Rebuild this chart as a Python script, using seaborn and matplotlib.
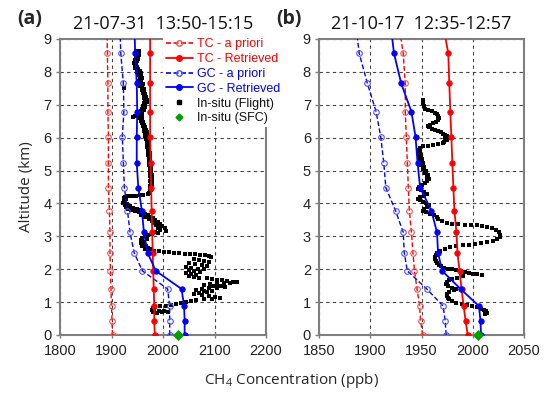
import matplotlib
matplotlib.use("Agg")
import matplotlib.pyplot as plt
from matplotlib.lines import Line2D
import seaborn as sns
import pandas as pd

# ---------------- data ----------------
levels = [0, 0.42, 0.88, 1.40, 1.95, 2.50, 3.12, 3.78, 4.48, 5.24, 6.03, 6.79, 7.65, 8.56, 9.6]

tc_apriori_a = [1902, 1901, 1900, 1899, 1898, 1897, 1897, 1896, 1894, 1894, 1894, 1893, 1893, 1892, 1891]
tc_retrieved_a = [1984, 1983, 1983, 1982, 1981, 1980, 1979, 1978, 1977, 1976, 1975, 1975, 1975, 1975, 1975]
gc_apriori_a = [2013, 2013, 2013, 2009, 1960, 1944, 1936, 1931, 1925, 1923, 1921, 1924, 1923, 1918, 1916]
gc_retrieved_a = [2042, 2042, 2041, 2036, 1986, 1970, 1963, 1959, 1952, 1949, 1949, 1950, 1949, 1946, 1944]

tc_apriori_b = [1951, 1949, 1948, 1945.5, 1943, 1941.5, 1940, 1938, 1937, 1936, 1935, 1934, 1934, 1932, 1927]
tc_retrieved_b = [1995, 1993, 1991, 1989, 1987, 1985, 1984, 1982, 1981, 1980, 1979, 1978, 1977, 1976, 1970]
gc_apriori_b = [1974, 1973, 1971, 1955, 1936, 1933, 1932, 1924.5, 1915, 1913, 1910, 1905.5, 1897, 1889, 1885]
gc_retrieved_b = [2008, 2007.5, 2006, 1988, 1970, 1966, 1965, 1959.5, 1948.5, 1946, 1944, 1940, 1930, 1923, 1919]

sfc_a = [2029]
sfc_b = [2005]
sfc_alt = [0]

flight_a = [
    (1948, 8.65), (1953, 8.62), (1950, 8.58), (1946, 8.55), (1954, 8.52), (1950, 8.48), (1947, 8.44),
    (1952, 8.40), (1945, 8.36), (1949, 8.32), (1944, 8.28), (1948, 8.24), (1945, 8.20), (1950, 8.16),
    (1946, 8.12), (1952, 8.08), (1955, 8.04), (1950, 8.00), (1957, 7.96), (1953, 7.92), (1958, 7.88),
    (1955, 7.84), (1960, 7.80), (1956, 7.76), (1952, 7.72), (1958, 7.68), (1962, 7.64), (1957, 7.60),
    (1955, 7.56), (1960, 7.52), (1963, 7.48), (1959, 7.44), (1964, 7.40), (1961, 7.36), (1966, 7.32),
    (1963, 7.28), (1967, 7.24), (1964, 7.20), (1968, 7.16), (1965, 7.12), (1968, 7.08), (1964, 7.04),
    (1966, 7.00), (1961, 6.96), (1965, 6.92), (1959, 6.88), (1963, 6.84), (1957, 6.80), (1960, 6.76),
    (1955, 6.72), (1959, 6.68), (1956, 6.64), (1953, 6.60), (1960, 6.56), (1957, 6.52), (1962, 6.48),
    (1959, 6.44), (1964, 6.40), (1961, 6.36), (1966, 6.32), (1963, 6.28), (1967, 6.24), (1964, 6.20),
    (1968, 6.16), (1965, 6.12), (1969, 6.08), (1966, 6.04), (1970, 6.00), (1967, 5.96), (1970, 5.92),
    (1968, 5.88), (1971, 5.84), (1969, 5.80), (1972, 5.76), (1969, 5.72), (1972, 5.68), (1970, 5.64),
    (1973, 5.60), (1971, 5.56), (1974, 5.52), (1971, 5.48), (1974, 5.44), (1972, 5.40), (1975, 5.36),
    (1972, 5.32), (1975, 5.28), (1973, 5.24), (1976, 5.20), (1973, 5.16), (1976, 5.12), (1974, 5.08),
    (1977, 5.04), (1974, 5.00), (1977, 4.96), (1975, 4.92), (1978, 4.88), (1975, 4.84), (1978, 4.80),
    (1976, 4.76), (1978, 4.72), (1975, 4.68), (1978, 4.64), (1976, 4.60), (1978, 4.56), (1975, 4.52),
    (1977, 4.48), (1974, 4.44), (1977, 4.40), (1975, 4.36), (1973, 4.32),
    (1924, 7.52), (1942, 6.62), (1945, 6.65),
    (1970, 4.28), (1962, 4.26), (1955, 4.25), (1948, 4.24), (1940, 4.23), (1933, 4.22), (1927, 4.20),
    (1925, 4.16), (1928, 4.12), (1924, 4.08), (1927, 4.04), (1923, 4.00), (1930, 3.98), (1926, 3.94),
    (1935, 3.92), (1929, 3.88), (1942, 3.86), (1933, 3.84), (1950, 3.83), (1938, 3.80), (1957, 3.80),
    (1946, 3.77), (1953, 3.74), (1960, 3.72), (1965, 3.68), (1958, 3.66), (1970, 3.64), (1975, 3.60),
    (1966, 3.58), (1980, 3.56), (1972, 3.52), (1985, 3.50), (1978, 3.46), (1990, 3.44), (1982, 3.40),
    (1994, 3.38), (1986, 3.34), (1998, 3.30), (1990, 3.26), (2003, 3.24), (1995, 3.20), (2005, 3.17),
    (1985, 3.14), (1990, 3.10), (1978, 3.07), (1970, 3.03), (1965, 3.00), (1960, 2.96), (1968, 2.92),
    (1958, 2.88), (1963, 2.84), (1957, 2.80), (1962, 2.76), (1967, 2.72), (1960, 2.70), (1970, 2.66),
    (1965, 2.63), (1975, 2.60),
    (1982, 2.56), (1992, 2.55), (2002, 2.53), (2012, 2.52), (2022, 2.50), (2032, 2.49), (2042, 2.47),
    (2052, 2.46), (2062, 2.45), (2072, 2.44), (2082, 2.42), (2090, 2.40), (2094, 2.38),
    (2060, 2.30), (2070, 2.28), (2080, 2.25), (2090, 2.22), (2050, 2.18), (2062, 2.15), (2075, 2.12),
    (2085, 2.10), (2045, 2.08), (2055, 2.05), (2068, 2.02), (2080, 2.00), (2050, 1.97), (2060, 1.94),
    (2072, 1.92), (2045, 1.90), (2055, 1.86), (2065, 1.83), (2050, 1.78), (2060, 1.75), (2070, 1.72),
    (2085, 1.74), (2095, 1.70), (2105, 1.68), (2115, 1.66), (2125, 1.64), (2135, 1.62), (2143, 1.60),
    (2130, 1.58), (2118, 1.57), (2105, 1.56), (2092, 1.55), (2080, 1.53), (2098, 1.50), (2112, 1.48),
    (2120, 1.46), (2105, 1.44), (2090, 1.42), (2075, 1.40), (2065, 1.37), (2080, 1.35), (2095, 1.33),
    (2085, 1.30), (2070, 1.28), (2060, 1.25), (2075, 1.22), (2090, 1.20), (2100, 1.17), (2110, 1.12),
    (2095, 1.10), (2080, 1.08), (2065, 1.06), (2055, 1.03), (2045, 1.00), (2035, 0.97), (2025, 0.94),
    (2015, 0.91), (2005, 0.89), (1995, 0.87), (1985, 0.85), (1980, 0.81), (1979, 0.77), (1983, 0.74),
    (1992, 0.73), (2002, 0.72), (2010, 0.71), (1998, 0.69), (1988, 0.68), (1980, 0.70),
]

flight_b = [
    (1951, 7.15), (1951, 7.05), (1952, 6.95), (1953, 6.87), (1956, 6.84), (1960, 6.80), (1963, 6.76),
    (1965, 6.72), (1966, 6.66), (1967, 6.60), (1966, 6.54), (1964, 6.48), (1961, 6.44), (1958, 6.40),
    (1956, 6.36), (1957, 6.31), (1960, 6.27), (1963, 6.24), (1966, 6.20), (1969, 6.16), (1971, 6.12),
    (1973, 6.08), (1975, 6.04), (1976, 6.00), (1973, 5.97), (1975, 5.92), (1972, 5.88),
    (1971, 5.83), (1966, 5.80), (1961, 5.78), (1956, 5.76), (1951, 5.74), (1948, 5.70), (1946, 5.64),
    (1948, 5.58), (1946, 5.52), (1949, 5.46), (1947, 5.40), (1950, 5.34), (1948, 5.28), (1951, 5.22),
    (1949, 5.16), (1952, 5.10), (1951, 5.04), (1954, 4.98), (1953, 4.92), (1956, 4.86), (1955, 4.80),
    (1957, 4.74), (1955, 4.68), (1953, 4.62), (1950, 4.56), (1947, 4.50), (1946, 4.45), (1949, 4.40),
    (1952, 4.35), (1955, 4.28), (1952, 4.24), (1948, 4.20), (1946, 4.15), (1948, 4.10), (1951, 4.05),
    (1954, 4.00), (1957, 3.95), (1955, 3.90), (1952, 3.84), (1951, 3.78), (1954, 3.73), (1958, 3.69),
    (1962, 3.64), (1965, 3.58), (1966, 3.52),
    (1970, 3.46), (1975, 3.42), (1980, 3.39), (1986, 3.37), (1992, 3.35), (1998, 3.34), (2004, 3.33),
    (2009, 3.31), (2014, 3.28), (2019, 3.24), (2023, 3.18), (2026, 3.12), (2027, 3.05), (2027, 2.98),
    (2024, 2.91), (2020, 2.86), (2014, 2.82), (2008, 2.79), (2002, 2.77), (1996, 2.75), (1990, 2.73),
    (1984, 2.70), (1978, 2.67), (1973, 2.62), (1968, 2.56), (1965, 2.50), (1964, 2.44), (1963, 2.38),
    (1963, 2.32), (1964, 2.26), (1965, 2.20), (1967, 2.14), (1969, 2.09), (1972, 2.05), (1976, 2.02),
    (1980, 2.00), (1984, 1.97), (1988, 1.94), (1992, 1.91), (1996, 1.88), (2000, 1.86), (2004, 1.84),
    (2009, 1.82),
    (1990, 1.78), (1985, 1.74), (1980, 1.70), (1977, 1.66), (1975, 1.60), (1974, 1.54), (1976, 1.48),
    (1980, 1.44), (1984, 1.40), (1982, 1.36), (1977, 1.32), (1975, 1.26), (1975, 1.20), (1976, 1.14),
    (1977, 1.08), (1980, 1.02), (1984, 0.97), (1989, 0.93), (1994, 0.90), (1999, 0.87), (2004, 0.84),
    (2008, 0.80), (2011, 0.76), (2013, 0.72), (2014, 0.67), (2012, 0.64),
]

titles = ["21-07-31  13:50-15:15", "21-10-17  12:35-12:57"]
panel_tags = ["(a)", "(b)"]
xticks_a = [1800, 1900, 2000, 2100, 2200]
xticks_b = [1850, 1900, 1950, 2000, 2050]
yticks = list(range(0, 10))
legend_labels = ["TC - a priori", "TC - Retrieved", "GC - a priori", "GC - Retrieved",
                 "In-situ (Flight)", "In-situ (SFC)"]

# ---------------- style ----------------
sns.set_style("white")
plt.rcParams["font.family"] = ["Liberation Sans", "DejaVu Sans"]
plt.rcParams["mathtext.fontset"] = "custom"
plt.rcParams["mathtext.rm"] = "Open Sans"

RED = "#ff0000"
BLUE = "#0000ff"
GREEN = "#00a000"
GRID = "#444444"
SPINE = "#7f7f7f"

W, H = 550, 394
fig = plt.figure(figsize=(W / 100, H / 100), dpi=100)


def px_rect(l, t, r, b):
    return [l / W, 1 - b / H, (r - l) / W, (b - t) / H]


ax_a = fig.add_axes(px_rect(60, 39, 266, 335))
ax_b = fig.add_axes(px_rect(319.3, 39, 524, 335))


def draw_panel(ax, tc_ap, tc_ret, gc_ap, gc_ret, flight, sfc, xlim, xticks):
    df = pd.DataFrame({"alt": levels, "tc_ap": tc_ap, "tc_ret": tc_ret,
                       "gc_ap": gc_ap, "gc_ret": gc_ret})
    fl = pd.DataFrame(flight, columns=["conc", "alt"])
    sns.scatterplot(data=fl, x="conc", y="alt", ax=ax, marker="s", s=7,
                    color="black", linewidth=0, zorder=3, legend=False)
    sns.lineplot(data=df, x="tc_ap", y="alt", ax=ax, sort=False, estimator=None,
                 color=RED, lw=1.0, linestyle=(0, (3.5, 1.8)), marker="o", markersize=4,
                 markerfacecolor="none", markeredgecolor="#ff5050", markeredgewidth=0.8, zorder=4)
    sns.lineplot(data=df, x="gc_ap", y="alt", ax=ax, sort=False, estimator=None,
                 color=BLUE, lw=1.0, linestyle=(0, (3.5, 1.8)), marker="o", markersize=4,
                 markerfacecolor="none", markeredgecolor="#5050ff", markeredgewidth=0.8, zorder=4)
    sns.lineplot(data=df, x="tc_ret", y="alt", ax=ax, sort=False, estimator=None,
                 color=RED, lw=1.3, marker="o", markersize=4,
                 markeredgecolor=RED, markeredgewidth=0.5, zorder=5)
    sns.lineplot(data=df, x="gc_ret", y="alt", ax=ax, sort=False, estimator=None,
                 color=BLUE, lw=1.3, marker="o", markersize=4,
                 markeredgecolor=BLUE, markeredgewidth=0.5, zorder=5)
    sf = pd.DataFrame({"conc": sfc, "alt": sfc_alt})
    sns.scatterplot(data=sf, x="conc", y="alt", ax=ax, marker="D", s=32,
                    color=GREEN, linewidth=0, zorder=7, clip_on=False, legend=False)

    ax.set_xlim(*xlim)
    ax.set_ylim(0, 9)
    ax.set_xticks(xticks)
    ax.set_yticks(yticks)
    ax.set_xlabel("")
    ax.set_ylabel("")
    ax.set_axisbelow(True)
    ax.grid(True, linestyle=(0, (3, 3)), color=GRID, linewidth=0.8)
    for sp in ax.spines.values():
        sp.set_visible(True)
        sp.set_color(SPINE)
        sp.set_linewidth(1.5)
    ax.tick_params(axis="x", direction="inout", length=5, width=1, color=SPINE,
                   labelsize=10.5, labelcolor="#222222", pad=4, bottom=True)
    ax.tick_params(axis="y", direction="out", length=3, width=1, color=SPINE,
                   labelsize=10.5, labelcolor="#222222", pad=3, left=True)


draw_panel(ax_a, tc_apriori_a, tc_retrieved_a, gc_apriori_a, gc_retrieved_a,
           flight_a, sfc_a, (1800, 2200), xticks_a)
draw_panel(ax_b, tc_apriori_b, tc_retrieved_b, gc_apriori_b, gc_retrieved_b,
           flight_b, sfc_b, (1850, 2050), xticks_b)

for ax, title in zip([ax_a, ax_b], titles):
    ax.set_title(title, fontsize=13, family=["Open Sans", "DejaVu Sans"], pad=7, color="#111111")

fig.text(30 / W, 1 - 19 / H, panel_tags[0], fontsize=14, fontweight="bold",
         family=["Open Sans", "DejaVu Sans"], ha="center", va="center")
fig.text(289 / W, 1 - 19 / H, panel_tags[1], fontsize=14, fontweight="bold",
         family=["Open Sans", "DejaVu Sans"], ha="center", va="center")

ax_a.set_ylabel("Altitude (km)", fontsize=11, family=["Open Sans", "DejaVu Sans"], labelpad=7)
fig.text(292 / W, 1 - 380 / H, "CH$_4$ Concentration (ppb)", fontsize=11,
         family=["Open Sans", "DejaVu Sans"], ha="center", va="center")

handles = [
    Line2D([], [], color=RED, lw=1.2, linestyle=(0, (3, 1.5)), marker="o", markersize=4,
           markerfacecolor="none", markeredgecolor="#ff5050"),
    Line2D([], [], color=RED, lw=1.3, marker="o", markersize=4),
    Line2D([], [], color=BLUE, lw=1.2, linestyle=(0, (3, 1.5)), marker="o", markersize=4,
           markerfacecolor="none", markeredgecolor="#5050ff"),
    Line2D([], [], color=BLUE, lw=1.3, marker="o", markersize=4),
    Line2D([], [], color="black", ls="none", marker="s", markersize=2.5),
    Line2D([], [], color=GREEN, ls="none", marker="D", markersize=3.5),
]
leg = ax_a.legend(handles, legend_labels, loc="upper left",
                  bbox_to_anchor=(163 / W, 1 - 36 / H), bbox_transform=fig.transFigure,
                  fontsize=9, frameon=True, facecolor="white", edgecolor="none",
                  framealpha=1, fancybox=False, handlelength=2.2, handletextpad=0.35,
                  labelspacing=0.22, borderpad=0.2, borderaxespad=0,
                  labelcolor=[RED, RED, BLUE, BLUE, "#111111", "#111111"])
leg.set_zorder(20)

fig.savefig("out.png", dpi=100)
